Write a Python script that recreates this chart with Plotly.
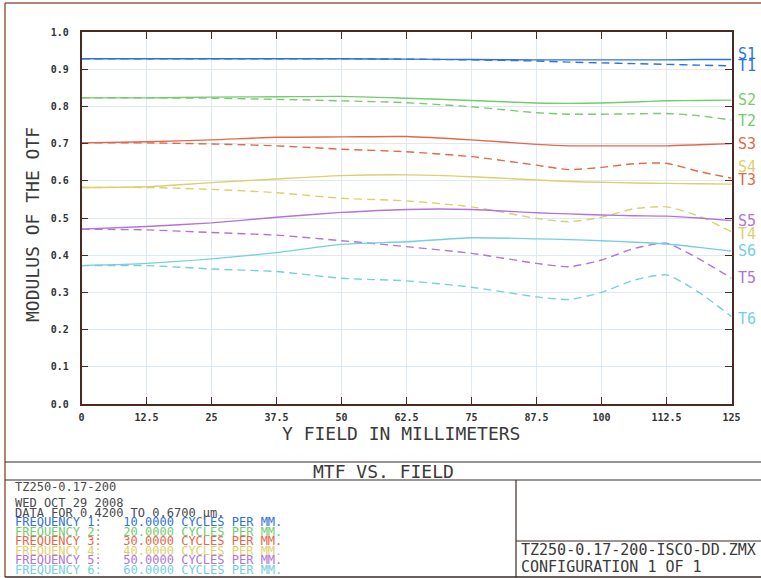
import plotly.graph_objects as go

W, H = 761, 578

field_mm = [0, 12.5, 25, 37.5, 50, 62.5, 75, 87.5, 93.75, 100, 106.25, 112.5, 118.75, 125]

S1 = [0.928, 0.928, 0.928, 0.928, 0.928, 0.927, 0.926, 0.925, 0.925, 0.925, 0.925, 0.925, 0.926, 0.926]
T1 = [0.928, 0.928, 0.928, 0.928, 0.928, 0.927, 0.925, 0.922, 0.919, 0.917, 0.915, 0.913, 0.911, 0.909]
S2 = [0.823, 0.823, 0.825, 0.826, 0.827, 0.822, 0.816, 0.809, 0.808, 0.809, 0.812, 0.815, 0.816, 0.817]
T2 = [0.823, 0.823, 0.822, 0.819, 0.815, 0.810, 0.799, 0.783, 0.779, 0.779, 0.780, 0.781, 0.775, 0.763]
S3 = [0.702, 0.705, 0.710, 0.717, 0.718, 0.719, 0.710, 0.698, 0.694, 0.694, 0.694, 0.694, 0.697, 0.700]
T3 = [0.702, 0.702, 0.699, 0.694, 0.685, 0.678, 0.665, 0.642, 0.630, 0.636, 0.646, 0.647, 0.625, 0.607]
S4 = [0.582, 0.584, 0.595, 0.605, 0.614, 0.616, 0.611, 0.602, 0.598, 0.596, 0.594, 0.593, 0.592, 0.591]
T4 = [0.582, 0.582, 0.577, 0.568, 0.553, 0.546, 0.530, 0.499, 0.490, 0.502, 0.525, 0.530, 0.505, 0.463]
S5 = [0.470, 0.477, 0.487, 0.502, 0.515, 0.523, 0.523, 0.514, 0.511, 0.508, 0.506, 0.505, 0.500, 0.493]
T5 = [0.470, 0.468, 0.461, 0.454, 0.439, 0.423, 0.405, 0.378, 0.369, 0.387, 0.418, 0.432, 0.390, 0.338]
S6 = [0.372, 0.378, 0.390, 0.407, 0.429, 0.436, 0.447, 0.444, 0.442, 0.439, 0.435, 0.430, 0.421, 0.411]
T6 = [0.372, 0.372, 0.363, 0.356, 0.338, 0.331, 0.314, 0.288, 0.281, 0.300, 0.333, 0.347, 0.300, 0.235]

x_tick_vals = [0, 12.5, 25, 37.5, 50, 62.5, 75, 87.5, 100, 112.5, 125]
x_tick_text = ["0", "12.5", "25", "37.5", "50", "62.5", "75", "87.5", "100", "112.5", "125"]
y_tick_vals = [0.0, 0.1, 0.2, 0.3, 0.4, 0.5, 0.6, 0.7, 0.8, 0.9, 1.0]
y_tick_text = ["0.0", "0.1", "0.2", "0.3", "0.4", "0.5", "0.6", "0.7", "0.8", "0.9", "1.0"]

freq_colors = ["#2f72dc", "#74cc6c", "#e2684a", "#dcd06c", "#b274d8", "#74cfe0"]
series = [
    ("S1", S1, 0, "solid", 5.5), ("T1", T1, 0, "dash", 0),
    ("S2", S2, 1, "solid", 0), ("T2", T2, 1, "dash", -1),
    ("S3", S3, 2, "solid", 0), ("T3", T3, 2, "dash", -2),
    ("S4", S4, 3, "solid", 17), ("T4", T4, 3, "dash", -2),
    ("S5", S5, 4, "solid", 0), ("T5", T5, 4, "dash", 0),
    ("S6", S6, 5, "solid", 0), ("T6", T6, 5, "dash", -2),
]

header_lines = ["TZ250-0.17-200", "WED OCT 29 2008", "DATA FOR 0.4200 TO 0.6700 µm."]
freq_lines = [
    "FREQUENCY 1:   10.0000 CYCLES PER MM.",
    "FREQUENCY 2:   20.0000 CYCLES PER MM.",
    "FREQUENCY 3:   30.0000 CYCLES PER MM.",
    "FREQUENCY 4:   40.0000 CYCLES PER MM.",
    "FREQUENCY 5:   50.0000 CYCLES PER MM.",
    "FREQUENCY 6:   60.0000 CYCLES PER MM.",
]
title_text = "MTF VS. FIELD"
file_lines = ["TZ250-0.17-200-ISCO-DD.ZMX", "CONFIGURATION 1 OF 1"]
x_title = "Y FIELD IN MILLIMETERS"
y_title = "MODULUS OF THE OTF"

MONO = "DejaVu Sans Mono, Liberation Mono, monospace"

def px(x):
    return x / W

def py(y):
    return 1 - y / H

fig = go.Figure()
for name, vals, ci, dash, _ in series:
    fig.add_trace(go.Scatter(
        x=field_mm, y=vals, mode="lines", name=name,
        line=dict(color=freq_colors[ci], width=1.4,
                  dash="solid" if dash == "solid" else "8px,5px",
                  shape="spline", smoothing=0.6),
        showlegend=False, hoverinfo="skip"))

annotations = []
for name, vals, ci, dash, ys in series:
    annotations.append(dict(
        x=field_mm[-1], y=vals[-1], xref="x", yref="y", text=name,
        showarrow=False, xanchor="left", yanchor="middle", xshift=4, yshift=ys,
        font=dict(family=MONO, size=15, color=freq_colors[ci])))

# axis titles
annotations.append(dict(x=px(401), y=py(433), xref="paper", yref="paper", text=x_title,
                        showarrow=False, xanchor="center", yanchor="middle",
                        font=dict(family=MONO, size=18, color="#3a3a3a")))
annotations.append(dict(x=px(32), y=py(225), xref="paper", yref="paper", text=y_title,
                        showarrow=False, xanchor="center", yanchor="middle", textangle=-90,
                        font=dict(family=MONO, size=18, color="#3a3a3a")))
# title box
annotations.append(dict(x=px(383), y=py(471), xref="paper", yref="paper", text=title_text,
                        showarrow=False, xanchor="center", yanchor="middle",
                        font=dict(family=MONO, size=18, color="#3a3a3a")))
# bottom-left text
left_y = [487, 503, 512.5]
for t, yy in zip(header_lines, left_y):
    annotations.append(dict(x=px(14), y=py(yy), xref="paper", yref="paper", text=t,
                            showarrow=False, xanchor="left", yanchor="middle", borderpad=0,
                            font=dict(family=MONO, size=12, color="#4a4a4a")))
freq_y = [522, 531.5, 541, 550.5, 560, 569.5]
for t, yy, c in zip(freq_lines, freq_y, freq_colors):
    annotations.append(dict(x=px(14), y=py(yy), xref="paper", yref="paper", text=t,
                            showarrow=False, xanchor="left", yanchor="middle", borderpad=0,
                            font=dict(family=MONO, size=12, color=c)))
# bottom-right text
for t, yy in zip(file_lines, [550, 567]):
    annotations.append(dict(x=px(519), y=py(yy), xref="paper", yref="paper", text=t,
                            showarrow=False, xanchor="left", yanchor="middle",
                            font=dict(family=MONO, size=15, color="#3a3a3a")))

frame_col = "#9a5a46"
dark = "#3a2a28"
shapes = [
    dict(type="line", xref="paper", yref="paper", x0=px(5), x1=px(5), y0=py(3), y1=py(577),
         line=dict(color=frame_col, width=1.5)),
    dict(type="line", xref="paper", yref="paper", x0=px(5), x1=1, y0=py(3), y1=py(3),
         line=dict(color=frame_col, width=1.5)),
    dict(type="line", xref="paper", yref="paper", x0=px(5), x1=1, y0=py(577), y1=py(577),
         line=dict(color=dark, width=1.5)),
    dict(type="line", xref="paper", yref="paper", x0=px(5), x1=1, y0=py(462), y1=py(462),
         line=dict(color=dark, width=1.2)),
    dict(type="line", xref="paper", yref="paper", x0=px(5), x1=1, y0=py(480), y1=py(480),
         line=dict(color=dark, width=1.2)),
    dict(type="line", xref="paper", yref="paper", x0=px(516), x1=px(516), y0=py(480), y1=py(577),
         line=dict(color=dark, width=1.2)),
    dict(type="line", xref="paper", yref="paper", x0=px(516), x1=1, y0=py(541), y1=py(541),
         line=dict(color=dark, width=1.2)),
]

axis_col = "#4a2a22"
fig.update_layout(
    width=W, height=H,
    margin=dict(l=0, r=0, t=0, b=0),
    paper_bgcolor="white", plot_bgcolor="white",
    showlegend=False,
    annotations=annotations,
    shapes=shapes,
    xaxis=dict(
        domain=[px(81.5), px(731.5)], range=[0, 125],
        tickmode="array", tickvals=x_tick_vals, ticktext=x_tick_text,
        ticks="inside", ticklen=7, tickcolor=axis_col, tickwidth=1.2,
        showline=True, linecolor=axis_col, linewidth=1.5, mirror="ticks",
        showgrid=True, gridcolor="#dde9f4", gridwidth=1, zeroline=False,
        tickfont=dict(family=MONO, size=10, color="#333333", weight="bold"),
        ticklabelstandoff=3, automargin=False,
    ),
    yaxis=dict(
        domain=[py(404), py(32)], range=[0, 1.0],
        tickmode="array", tickvals=y_tick_vals, ticktext=y_tick_text,
        ticks="inside", ticklen=7, tickcolor=axis_col, tickwidth=1.2,
        showline=True, linecolor=axis_col, linewidth=1.5, mirror="ticks",
        showgrid=True, gridcolor="#dde9f4", gridwidth=1, zeroline=False,
        tickfont=dict(family=MONO, size=10, color="#333333", weight="bold"),
        ticklabelstandoff=9, automargin=False,
    ),
)

fig.write_html(
    "out.html",
    config={"displayModeBar": False},
    post_script="document.body.style.margin='0';document.body.style.overflow='hidden';",
)
